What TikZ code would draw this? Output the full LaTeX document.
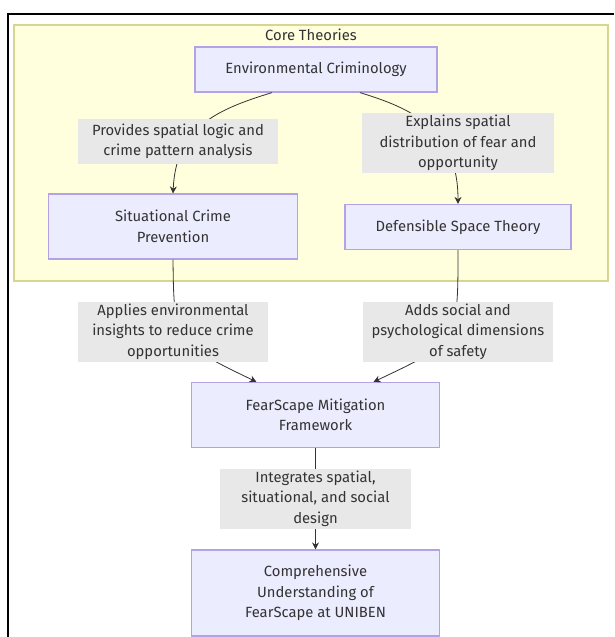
\documentclass[tikz,border=0pt]{standalone}
\usepackage{fontspec}
\setmainfont{Fira Sans}
\usepackage{tikz}
\usetikzlibrary{arrows.meta, calc}
\definecolor{boxfill}{HTML}{ECECFF}
\definecolor{boxline}{HTML}{B4A2E6}
\definecolor{clusfill}{HTML}{FFFFDE}
\definecolor{clusline}{HTML}{D6D690}
\definecolor{lblfill}{HTML}{E8E8E8}
\definecolor{ink}{HTML}{333333}
\tikzset{font=\fontsize{14.8}{20.5}\selectfont, text=ink}
\tikzset{theory/.style={shape=rectangle, draw=boxline, fill=boxfill, line width=1.2pt,
    align=center, inner sep=0pt}}
\tikzset{lbl/.style={shape=rectangle, fill=lblfill, align=center, inner sep=0pt}}
\tikzset{flow/.style={draw=ink, line width=0.8pt, -{Stealth[length=7pt,width=7pt]}}}

\begin{document}
\begin{tikzpicture}[x=1pt, y=-1pt]
  \useasboundingbox (0,0) rectangle (614,637);
  \fill[white] (0,0) rectangle (614,637);
  \draw[black, line width=1.6pt] (8,637) -- (8,14) -- (614,14);
  %%%%% cluster
  \path[fill=clusfill, draw=clusline, line width=1.5pt] (14,25) rectangle (608,281);
  \node (core) at (311,35) {Core Theories};
  %%%%% boxes
  \node[theory, minimum width=242pt, minimum height=45pt] (ec) at (316,69.5)
    {Environmental Criminology};
  \node[theory, minimum width=249pt, minimum height=65pt] (scp) at (173,226.5)
    {Situational Crime\\Prevention};
  \node[theory, minimum width=226pt, minimum height=45pt] (dst) at (458,227)
    {Defensible Space Theory};
  \node[theory, minimum width=248pt, minimum height=65pt] (fm) at (315.5,415)
    {FearScape Mitigation\\Framework};
  \node[theory, minimum width=248pt, minimum height=86pt] (cu) at (315.5,593)
    {Comprehensive\\Understanding of\\FearScape at UNIBEN};
  %%%%% connectors
  \draw[flow] ([xshift=-44pt]ec.south) .. controls (215,110) and (176,128) .. (scp.north);
  \draw[flow] ([xshift=44pt]ec.south) .. controls (410,108) and (458,128) .. (dst.north);
  \draw[flow] (scp.south) .. controls (174,342) .. ([xshift=-59pt]fm.north);
  \draw[flow] (dst.south) .. controls (458,342) .. ([xshift=58pt]fm.north);
  \draw[flow] (fm.south) -- (cu.north);
  %%%%% edge labels
  \node[lbl, minimum width=200pt, minimum height=45pt] (l1) at (178,141.5)
    {Provides spatial logic and\\crime pattern analysis};
  \node[lbl, minimum width=192pt, minimum height=60pt] (l2) at (458,143)
    {Explains spatial\\distribution of fear and\\opportunity};
  \node[lbl, minimum width=190pt, minimum height=60pt] (l3) at (173,331.5)
    {Applies environmental\\insights to reduce crime\\opportunities};
  \node[lbl, minimum width=190pt, minimum height=60pt] (l4) at (458,331.5)
    {Adds social and\\psychological dimensions\\of safety};
  \node[lbl, minimum width=191pt, minimum height=60pt] (l5) at (315.5,498.5)
    {Integrates spatial,\\situational, and social\\design};
\end{tikzpicture}
\end{document}
